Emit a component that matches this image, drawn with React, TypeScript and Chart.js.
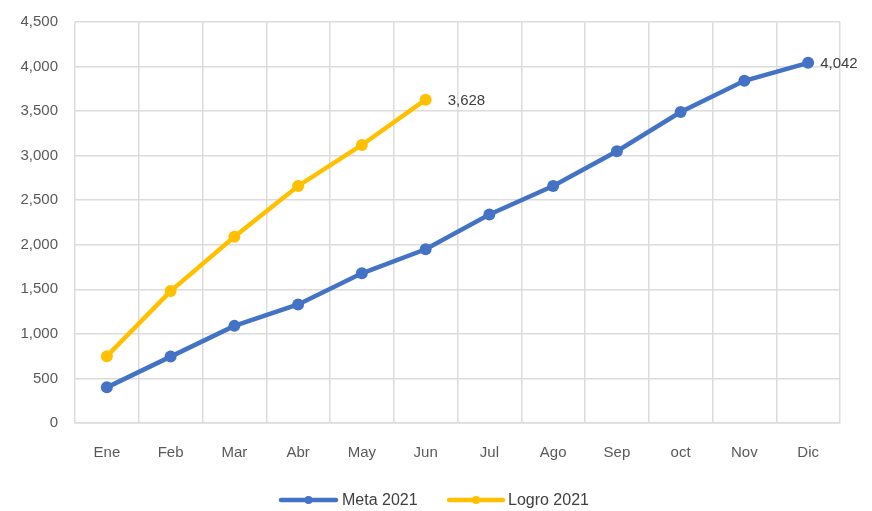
import React, { useEffect, useRef } from "react";
import { Chart, registerables } from "chart.js";

Chart.register(...registerables);

const months = ["Ene", "Feb", "Mar", "Abr", "May", "Jun", "Jul", "Ago", "Sep", "oct", "Nov", "Dic"];
const meta2021 = [400, 745, 1090, 1330, 1680, 1950, 2340, 2660, 3050, 3490, 3840, 4042];
const logro2021 = [750, 1480, 2090, 2660, 3120, 3628];
const seriesNames = ["Meta 2021", "Logro 2021"];
const seriesColors = ["#4472C4", "#FFC000"];
const yTicks = [0, 500, 1000, 1500, 2000, 2500, 3000, 3500, 4000, 4500];

const FONT = "'Liberation Sans', Arial, sans-serif";

const fmt = (v: number) => v.toLocaleString("en-US");

const endLabels = {
  id: "endLabels",
  afterDatasetsDraw(chart: any) {
    const ctx = chart.ctx;
    const offsets = [12, 22];
    ctx.save();
    ctx.font = `15px ${FONT}`;
    ctx.fillStyle = "#404040";
    ctx.textBaseline = "middle";
    ctx.textAlign = "left";
    chart.data.datasets.forEach((ds: any, i: number) => {
      const meta = chart.getDatasetMeta(i);
      const last = ds.data.length - 1;
      const pt = meta.data[last];
      if (!pt) return;
      ctx.fillText(fmt(ds.data[last]), pt.x + offsets[i], pt.y + 1);
    });
    ctx.restore();
  },
};

const customLegend = {
  id: "customLegend",
  afterDraw(chart: any) {
    const ctx = chart.ctx;
    const y = 500;
    const items = [
      { x0: 281, x1: 336, tx: 342 },
      { x0: 449, x1: 503, tx: 508 },
    ];
    ctx.save();
    ctx.font = `16px ${FONT}`;
    ctx.textBaseline = "middle";
    items.forEach((it, i) => {
      ctx.strokeStyle = seriesColors[i];
      ctx.lineWidth = 4.5;
      ctx.lineCap = "round";
      ctx.beginPath();
      ctx.moveTo(it.x0, y);
      ctx.lineTo(it.x1, y);
      ctx.stroke();
      ctx.fillStyle = seriesColors[i];
      ctx.beginPath();
      ctx.arc((it.x0 + it.x1) / 2, y, 4, 0, Math.PI * 2);
      ctx.fill();
      ctx.fillStyle = "#404040";
      ctx.fillText(seriesNames[i], it.tx, y + 1);
    });
    ctx.restore();
  },
};

export default function App() {
  const ref = useRef<HTMLCanvasElement>(null);
  useEffect(() => {
    if (!ref.current) return;
    const chart = new Chart(ref.current, {
      type: "line",
      data: {
        labels: months,
        datasets: [
          {
            label: seriesNames[0],
            data: meta2021,
            borderColor: seriesColors[0],
            backgroundColor: seriesColors[0],
            borderWidth: 4.5,
            pointRadius: 6,
            pointHoverRadius: 6,
            pointBorderWidth: 0,
            tension: 0,
          },
          {
            label: seriesNames[1],
            data: logro2021,
            borderColor: seriesColors[1],
            backgroundColor: seriesColors[1],
            borderWidth: 4.5,
            pointRadius: 6,
            pointHoverRadius: 6,
            pointBorderWidth: 0,
            tension: 0,
          },
        ],
      },
      options: {
        responsive: false,
        animation: false,
        layout: { padding: { top: 22, right: 32, bottom: 40, left: 0 } },
        plugins: { legend: { display: false }, tooltip: { enabled: false } },
        scales: {
          x: {
            offset: true,
            grid: { color: "#dcdcdc", lineWidth: 1.5, drawTicks: false, offset: true },
            border: { color: "#dcdcdc", width: 1.5 },
            ticks: { color: "#595959", font: { family: FONT, size: 15 }, padding: 21, maxRotation: 0 },
            afterFit(s: any) {
              s.height = 48;
              s.paddingLeft = 0;
              s.paddingRight = 0;
            },
          },
          y: {
            min: 0,
            max: 4500,
            afterBuildTicks(s: any) {
              s.ticks = yTicks.map((v) => ({ value: v }));
            },
            grid: { color: "#dcdcdc", lineWidth: 1.5, drawTicks: false },
            border: { display: false },
            ticks: {
              color: "#595959",
              font: { family: FONT, size: 15 },
              padding: 17,
              callback: (v: any) => fmt(Number(v)),
            },
            afterFit(s: any) {
              s.width = 75;
              s.paddingTop = 0;
              s.paddingBottom = 0;
            },
          },
        },
      },
      plugins: [endLabels, customLegend],
    });
    return () => chart.destroy();
  }, []);
  return (
    <div style={{ position: "fixed", left: 0, top: 0, width: 872, height: 511, background: "#fff" }}>
      <canvas ref={ref} width={872} height={511} style={{ width: 872, height: 511, display: "block" }} />
    </div>
  );
}
